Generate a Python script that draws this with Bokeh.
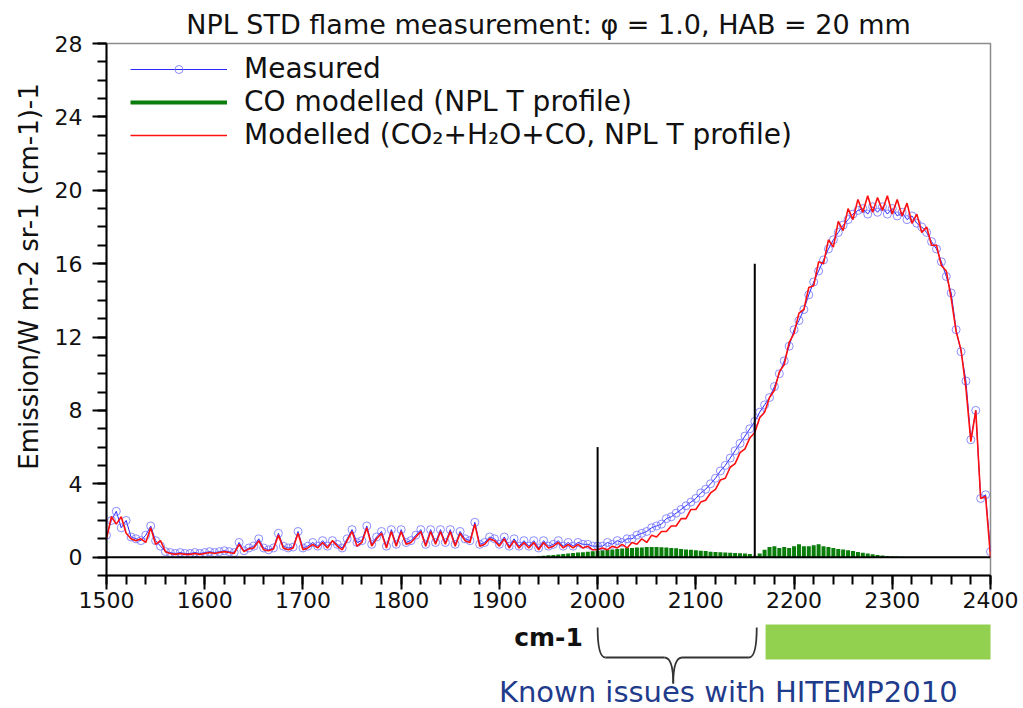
from bokeh.plotting import figure
from bokeh.models import Range1d, SingleIntervalTicker, Legend, LegendItem, Span
from bokeh.layouts import column
from bokeh.embed import file_html
from bokeh.resources import INLINE
from bokeh.core.properties import value

# ---------------- data ----------------
wn_start = 1500
wn_step = 5
measured = [
    1.2, 2.0, 2.5, 1.6, 2.0, 1.1, 1.0, 0.9, 1.2, 1.7,
    0.9, 0.6, 0.3, 0.25, 0.2, 0.25, 0.2, 0.2, 0.25, 0.2,
    0.25, 0.3, 0.25, 0.3, 0.35, 0.3, 0.25, 0.8, 0.35, 0.5,
    0.6, 1.0, 0.5, 0.4, 0.5, 1.3, 0.6, 0.5, 0.55, 1.4,
    0.5, 0.6, 0.8, 0.6, 0.9, 0.6, 0.9, 0.7, 0.5, 1.0,
    1.5, 0.8, 0.9, 1.7, 0.7, 1.1, 1.4, 0.6, 1.5, 0.7,
    1.5, 0.8, 0.9, 1.2, 1.5, 0.7, 1.5, 0.8, 1.5, 0.8,
    1.5, 0.7, 1.4, 1.0, 0.9, 1.9, 0.7, 0.8, 1.1, 1.0,
    0.7, 1.1, 0.6, 1.0, 0.6, 0.9, 0.6, 0.9, 0.5, 0.9,
    0.6, 0.7, 0.9, 0.6, 0.8, 0.6, 0.8, 0.7, 0.7, 0.6,
    0.6, 0.6, 0.8, 0.7, 0.9, 0.8, 1.0, 1.0, 1.2, 1.3,
    1.4, 1.6, 1.7, 1.8, 2.1, 2.2, 2.4, 2.6, 2.8, 3.0,
    3.2, 3.5, 3.7, 4.0, 4.3, 4.7, 5.0, 5.4, 5.8, 6.2,
    6.6, 7.0, 7.4, 7.9, 8.3, 8.7, 9.3, 10.0, 10.7, 11.5,
    12.4, 12.9, 13.5, 14.3, 15.0, 15.6, 16.2, 16.8, 17.3, 17.7,
    18.1, 18.4, 18.7, 18.9, 19.0, 18.7, 19.1, 18.8, 19.1, 18.7,
    19.0, 18.6, 18.8, 18.4, 18.6, 18.2, 18.0, 17.7, 17.2, 16.8,
    16.1, 15.3, 14.4, 12.4, 11.2, 9.6, 6.4, 8.0, 3.2, 3.4,
    0.3,
]
modelled = [
    1.0, 2.2, 1.8, 2.2, 1.3, 1.0, 0.9, 1.0, 0.8, 1.6,
    0.7, 0.9, 0.3, 0.2, 0.15, 0.2, 0.15, 0.15, 0.2, 0.15,
    0.2, 0.25, 0.2, 0.25, 0.3, 0.25, 0.2, 0.7, 0.3, 0.45,
    0.5, 0.9, 0.4, 0.35, 0.45, 1.2, 0.5, 0.4, 0.5, 1.3,
    0.4, 0.5, 0.7, 0.5, 0.8, 0.5, 0.9, 0.6, 0.4, 0.9,
    1.4, 0.6, 0.8, 1.6, 0.6, 1.0, 1.3, 0.5, 1.4, 0.6,
    1.4, 0.7, 0.8, 1.1, 1.4, 0.6, 1.4, 0.7, 1.4, 0.7,
    1.4, 0.6, 1.3, 0.9, 0.8, 1.8, 0.6, 0.7, 1.0, 0.9,
    0.6, 1.0, 0.5, 0.9, 0.5, 0.8, 0.5, 0.8, 0.4, 0.8,
    0.5, 0.6, 0.8, 0.5, 0.7, 0.5, 0.7, 0.5, 0.6, 0.4,
    0.4, 0.5, 0.4, 0.6, 0.5, 0.7, 0.5, 0.8, 0.7, 1.0,
    0.8, 1.2, 1.1, 1.4, 1.4, 1.7, 1.7, 2.1, 2.1, 2.6,
    2.6, 3.0, 3.1, 3.5, 3.7, 4.2, 4.3, 4.9, 5.1, 5.7,
    5.9, 6.5, 6.8, 7.6, 7.9, 8.7, 9.1, 10.1, 10.5, 11.7,
    12.2, 13.3, 13.5, 14.7, 14.8, 16.1, 16.0, 17.3, 16.9, 18.3,
    17.8, 19.0, 18.4, 19.5, 18.8, 19.7, 18.8, 19.6, 18.9, 19.7,
    18.7, 19.5, 18.6, 19.3, 18.2, 18.7, 17.7, 18.0, 17.0, 17.0,
    15.9, 15.6, 14.1, 12.3, 11.3, 9.2, 6.3, 8.0, 3.2, 3.3,
    0.0,
]
co_start = 1940
co_step = 5
co_modelled = [
    0.05, 0.08, 0.1, 0.12, 0.15, 0.17, 0.2, 0.22, 0.25, 0.27,
    0.3, 0.32, 0.35, 0.37, 0.4, 0.42, 0.45, 0.47, 0.5, 0.5,
    0.52, 0.53, 0.55, 0.55, 0.55, 0.54, 0.52, 0.5, 0.48, 0.45,
    0.42, 0.4, 0.38, 0.35, 0.33, 0.3, 0.28, 0.27, 0.25, 0.24,
    0.22, 0.21, 0.2, 0.17, 0.08, 0.2, 0.4, 0.55, 0.6, 0.5,
    0.55, 0.5, 0.6, 0.7, 0.6, 0.6, 0.65, 0.7, 0.6, 0.55,
    0.5, 0.45, 0.42, 0.38, 0.33, 0.28, 0.24, 0.2, 0.16, 0.12,
    0.09, 0.06, 0.04, 0.03, 0.02, 0.01, 0.0,
]
wavenumber = [wn_start + wn_step * i for i in range(len(measured))]
co_wavenumber = [co_start + co_step * i for i in range(len(co_modelled))]

marker_x = [2000, 2160]
marker_top = [6, 16]

title_text = "NPL STD flame measurement: \u03c6 = 1.0, HAB = 20 mm"
y_label_text = "Emission/W m-2 sr-1 (cm-1)-1"
legend_labels = ["Measured", "CO modelled (NPL T profile)",
                 "Modelled (CO\u2082+H\u2082O+CO, NPL T profile)"]
x_unit_text = "cm-1"
note_text = "Known issues with HITEMP2010"
brace_span = (2000, 2162, 2077)        # left, right, tip
highlight_span = (2171, 2405)           # green band

FONT = "DejaVu Sans"
W, H_TOP, H_BOT = 1023, 619, 89
LEFT, RIGHT, TOP, BOTTOM = 106, 33, 43, 44

# ---------------- main chart ----------------
p = figure(width=W, height=H_TOP, x_range=Range1d(1500, 2400), y_range=Range1d(-1, 28),
           output_backend="svg", toolbar_location=None,
           min_border_left=LEFT, min_border_right=RIGHT,
           min_border_top=TOP, min_border_bottom=BOTTOM,
           title=title_text)
p.title.align = "center"
p.title.vertical_align = "top"
p.title.text_font = FONT
p.title.text_font_size = "27px"
p.title.text_font_style = "normal"
p.title.text_color = "#111111"
p.title.standoff = 4

p.xgrid.visible = False
p.ygrid.visible = False
p.outline_line_color = "#8c8c8c"
p.outline_line_width = 1.5
p.background_fill_color = "white"
p.border_fill_color = "white"

p.xaxis.ticker = SingleIntervalTicker(interval=100, num_minor_ticks=5)
p.yaxis.ticker = SingleIntervalTicker(interval=4, num_minor_ticks=4)
for ax in (p.xaxis, p.yaxis):
    ax.axis_line_width = 2
    ax.axis_line_color = "black"
    ax.major_tick_line_width = 2
    ax.minor_tick_line_width = 2
    ax.major_tick_line_color = "black"
    ax.minor_tick_line_color = "black"
    ax.major_tick_in = 0
    ax.major_tick_out = 14
    ax.minor_tick_in = 0
    ax.minor_tick_out = 9
    ax.major_label_text_font = FONT
    ax.major_label_text_font_size = "22px"
    ax.major_label_text_color = "#111111"
p.xaxis.major_label_standoff = 2
p.yaxis.major_label_standoff = 10

# y-axis title; leading no-break spaces shift it upward as in the reference
p.yaxis.axis_label = "\u00a0" * 8 + y_label_text
p.yaxis.axis_label_text_font = FONT
p.yaxis.axis_label_text_font_size = "26px"
p.yaxis.axis_label_text_font_style = "normal"
p.yaxis.axis_label_text_color = "#111111"
p.yaxis.axis_label_standoff = 8

# CO modelled (green comb)
r_co = p.segment(x0=co_wavenumber, y0=[0] * len(co_modelled), x1=co_wavenumber, y1=co_modelled,
                 line_color="#0a7d0a", line_width=4)
# measured
r_meas_line = p.line(wavenumber, measured, line_color="#2a2aff", line_width=1)
r_meas_pts = p.scatter(wavenumber, measured, marker="circle", size=8,
                       line_color="#7070ff", line_alpha=0.8, line_width=1, fill_color="white", fill_alpha=0)
# modelled
r_mod = p.line(wavenumber, modelled, line_color="#ff1010", line_width=1.6)

# zero line and markers
p.add_layout(Span(location=0, dimension="width", line_color="black", line_width=2))
p.segment(x0=marker_x, y0=[0, 0], x1=marker_x, y1=marker_top, line_color="black", line_width=2)

legend = Legend(items=[
    LegendItem(label=legend_labels[0], renderers=[r_meas_line, r_meas_pts]),
    LegendItem(label=legend_labels[1], renderers=[r_co]),
    LegendItem(label=legend_labels[2], renderers=[r_mod]),
], location=(24, 424))
legend.label_text_font = FONT
legend.label_text_font_size = "28px"
legend.label_text_color = "#111111"
legend.glyph_width = 97
legend.glyph_height = 20
legend.label_standoff = 17
legend.spacing = 0
legend.padding = 0
legend.margin = 0
legend.border_line_color = None
legend.background_fill_alpha = 0
p.add_layout(legend)

# ---------------- annotation strip below (frame aligned with the chart) ----------------
q = figure(width=W, height=H_BOT, x_range=p.x_range, y_range=Range1d(0, H_BOT),
           output_backend="svg", toolbar_location=None,
           min_border_left=LEFT, min_border_right=RIGHT, min_border_top=0, min_border_bottom=0,
           x_axis_location=None, y_axis_location=None)
q.grid.visible = False
q.outline_line_color = None
q.background_fill_color = "white"
q.border_fill_color = "white"

bl, br, bt = brace_span
y_top, y_mid, y_tip = 81, 51, 25
bc = "#333333"
q.quadratic(x0=[bl], y0=[y_top], x1=[bl + 8], y1=[y_mid], cx=[bl], cy=[y_mid], line_color=bc, line_width=1.8)
q.segment(x0=[bl + 8, bt + 9], y0=[y_mid, y_mid], x1=[bt - 9, br - 8], y1=[y_mid, y_mid], line_color=bc, line_width=1.8)
q.quadratic(x0=[bt - 9, bt + 9], y0=[y_mid, y_mid], x1=[bt, bt], y1=[y_tip, y_tip], cx=[bt, bt], cy=[y_mid, y_mid],
            line_color=bc, line_width=1.8)
q.quadratic(x0=[br - 8], y0=[y_mid], x1=[br], y1=[y_top], cx=[br], cy=[y_mid], line_color=bc, line_width=1.8)

q.quad(left=[highlight_span[0]], right=[highlight_span[1]], bottom=[49], top=[84],
       fill_color="#92d050", line_color=None)

q.text(x=[1950], y=[71], text=[x_unit_text], text_font=value(FONT), text_font_size="25px",
       text_font_style="bold", text_align="center", text_baseline="middle", text_color="#111111")
q.text(x=[2133], y=[17], text=[note_text], text_font=value(FONT), text_font_size="29px",
       text_align="center", text_baseline="middle", text_color="#1f3b8c")

layout = column(p, q, spacing=0)
open("out.html", "w").write(file_html(layout, INLINE))
